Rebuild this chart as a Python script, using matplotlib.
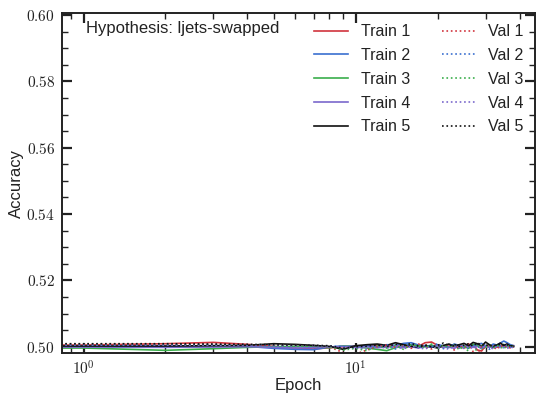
import matplotlib
matplotlib.use("Agg")
import matplotlib.pyplot as plt
from matplotlib.ticker import FuncFormatter, MultipleLocator, LogLocator
import numpy as np

plt.rcParams['font.family'] = ['Liberation Sans', 'DejaVu Sans']
plt.rcParams['mathtext.fontset'] = 'cm'

epochs = list(range(39))

train1 = [0.5003, 0.5005, 0.5009, 0.5013, 0.5007, 0.5001, 0.4995, 0.4993, 0.4997, 0.5000,
          0.5002, 0.5001, 0.5004, 0.5000, 0.5003, 0.4998, 0.5005, 0.5001, 0.5012, 0.5014,
          0.5004, 0.4999, 0.5006, 0.5000, 0.5003, 0.4996, 0.5001, 0.5005, 0.4990, 0.4987,
          0.5003, 0.5000, 0.5006, 0.4998, 0.5004, 0.5002, 0.5008, 0.5001, 0.5003]
train2 = [0.5000, 0.5001, 0.5002, 0.5003, 0.5001, 0.4995, 0.4992, 0.4991, 0.4999, 0.5002,
          0.5001, 0.5003, 0.5000, 0.5006, 0.5004, 0.5010, 0.5012, 0.5005, 0.5001, 0.4998,
          0.5006, 0.5003, 0.4997, 0.5008, 0.5004, 0.5000, 0.5005, 0.5002, 0.5007, 0.5010,
          0.5003, 0.4999, 0.5008, 0.5005, 0.5011, 0.5017, 0.5012, 0.5006, 0.5003]
train3 = [0.4998, 0.4996, 0.4989, 0.4994, 0.4998, 0.5000, 0.5001, 0.5000, 0.4997, 0.5002,
          0.4999, 0.4996, 0.4992, 0.4988, 0.4997, 0.5003, 0.5006, 0.5002, 0.5000, 0.5005,
          0.4998, 0.5003, 0.4999, 0.5004, 0.4996, 0.5001, 0.4995, 0.5008, 0.5003, 0.4994,
          0.5000, 0.5006, 0.4998, 0.5004, 0.5001, 0.5007, 0.4999, 0.5003, 0.5000]
train4 = [0.4999, 0.4999, 0.4998, 0.4999, 0.5000, 0.4998, 0.4996, 0.4997, 0.4999, 0.5001,
          0.4998, 0.5000, 0.4997, 0.4999, 0.5002, 0.4998, 0.5000, 0.4996, 0.5001, 0.4999,
          0.5003, 0.4997, 0.5000, 0.4995, 0.5002, 0.4999, 0.5004, 0.4998, 0.5001, 0.4996,
          0.5003, 0.5000, 0.4997, 0.5002, 0.4999, 0.5005, 0.5001, 0.4998, 0.5000]
train5 = [0.5002, 0.5002, 0.5002, 0.5003, 0.5004, 0.5009, 0.5007, 0.5004, 0.5001, 0.4992,
          0.5003, 0.5006, 0.5008, 0.5004, 0.5012, 0.5006, 0.5001, 0.4998, 0.5003, 0.5000,
          0.4996, 0.5004, 0.5008, 0.5002, 0.5006, 0.5010, 0.5003, 0.5013, 0.5009, 0.5001,
          0.5014, 0.5006, 0.4999, 0.5005, 0.5011, 0.5004, 0.5008, 0.5002, 0.5001]

val1 = [0.5008, 0.5008, 0.5008, 0.5007, 0.5006, 0.5005, 0.5004, 0.5002, 0.5000, 0.4982,
        0.4978, 0.4990, 0.5000, 0.5005, 0.4998, 0.5003, 0.4995, 0.5008, 0.5001, 0.4993,
        0.5006, 0.4999, 0.5004, 0.4990, 0.5002, 0.4997, 0.5009, 0.4985, 0.4978, 0.5002,
        0.4995, 0.5006, 0.4999, 0.4992, 0.5004, 0.4998, 0.5001, 0.4996, 0.5000]
val2 = [0.5006, 0.5006, 0.5006, 0.5006, 0.5005, 0.5004, 0.5003, 0.5003, 0.5002, 0.5000,
        0.4995, 0.5003, 0.4998, 0.5006, 0.4993, 0.5002, 0.5008, 0.4997, 0.5004, 0.4999,
        0.5009, 0.4994, 0.5003, 0.5006, 0.4998, 0.5002, 0.4995, 0.5007, 0.5001, 0.4996,
        0.5004, 0.4992, 0.5005, 0.4999, 0.5003, 0.4997, 0.5006, 0.5000, 0.4998]
val3 = [0.5007, 0.5007, 0.5007, 0.5006, 0.5005, 0.5004, 0.5003, 0.5001, 0.5000, 0.4990,
        0.4995, 0.4988, 0.5002, 0.4996, 0.5004, 0.4992, 0.5006, 0.5001, 0.4997, 0.5008,
        0.4994, 0.5003, 0.4999, 0.5005, 0.4991, 0.5002, 0.4985, 0.4975, 0.4998, 0.5006,
        0.4999, 0.5003, 0.4996, 0.5004, 0.5000, 0.4993, 0.5005, 0.4999, 0.5002]
val4 = [0.5005, 0.5005, 0.5005, 0.5005, 0.5004, 0.5003, 0.5003, 0.5002, 0.5001, 0.4996,
        0.4998, 0.4993, 0.5000, 0.4996, 0.4999, 0.4994, 0.5001, 0.4997, 0.4993, 0.5002,
        0.4996, 0.4999, 0.4992, 0.5003, 0.4997, 0.4995, 0.5001, 0.4994, 0.4998, 0.5002,
        0.4996, 0.4999, 0.4993, 0.5001, 0.4997, 0.5000, 0.4995, 0.4999, 0.4997]
val5 = [0.5009, 0.5009, 0.5009, 0.5008, 0.5007, 0.5006, 0.5005, 0.5004, 0.5003, 0.4995,
        0.5000, 0.5002, 0.5005, 0.5000, 0.5008, 0.5003, 0.5010, 0.5002, 0.5006, 0.4999,
        0.5004, 0.5011, 0.5003, 0.5007, 0.5001, 0.5005, 0.5009, 0.5002, 0.5012, 0.5004,
        0.5007, 0.5001, 0.5006, 0.5003, 0.5008, 0.5004, 0.5006, 0.5002, 0.5004]

train_labels = ["Train 1", "Train 2", "Train 3", "Train 4", "Train 5"]
val_labels = ["Val 1", "Val 2", "Val 3", "Val 4", "Val 5"]
colors = ["#d1343d", "#3a6fd0", "#3aae4b", "#7a68cc", "#111111"]
hypothesis = "Hypothesis: ljets-swapped"

fig = plt.figure(figsize=(5.37, 3.96), dpi=100)
ax = fig.add_axes([62/537, 1 - 353/396, (535-62)/537, (353-13)/396])
ax.set_xscale('log')

trains = [train1, train2, train3, train4, train5]
vals = [val1, val2, val3, val4, val5]
for t, lab, c in zip(trains, train_labels, colors):
    ax.plot(epochs, t, color=c, lw=1.2, label=lab)
for v, lab, c in zip(vals, val_labels, colors):
    ax.plot(epochs, v, color=c, lw=1.2, ls=':', label=lab)

ax.set_ylim(0.4981, 0.6006)
ax.yaxis.set_major_locator(MultipleLocator(0.02))
ax.yaxis.set_minor_locator(MultipleLocator(0.005))
ax.yaxis.set_major_formatter(FuncFormatter(lambda v, p: r'$%.2f$' % v))
ax.xaxis.set_major_locator(LogLocator(base=10))
ax.xaxis.set_minor_locator(LogLocator(base=10, subs=np.arange(2, 10)))
ax.xaxis.set_major_formatter(FuncFormatter(lambda v, p: r'$10^{%d}$' % round(np.log10(v))))

ax.tick_params(which='both', direction='in', top=True, right=True, colors='#222222', labelsize=11)
ax.tick_params(which='major', length=7, width=1.6, pad=5)
ax.tick_params(which='minor', length=4, width=1.0)
for s in ax.spines.values():
    s.set_linewidth(1.4)
    s.set_color('#222222')

ax.set_xlabel("Epoch", fontsize=12, color='#222222', labelpad=0)
ax.set_ylabel("Accuracy", fontsize=12, color='#222222', labelpad=1.5)
ax.text(0.05, 0.955, hypothesis, transform=ax.transAxes, fontsize=12,
        va='center', ha='left', color='#222222')
ax.legend(ncol=2, loc='upper right', frameon=False, fontsize=11.5,
          handlelength=2.1, columnspacing=2.0, labelspacing=0.55,
          borderaxespad=0.2, borderpad=0.5, labelcolor='#222222')

fig.savefig("out.png", dpi=100)
